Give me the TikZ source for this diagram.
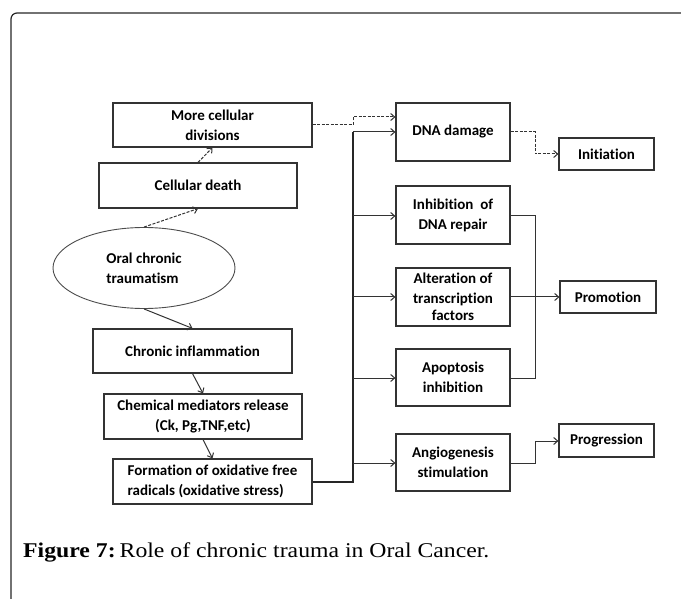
\documentclass[tikz,border=0pt]{standalone}
\usepackage{fontspec}
\newfontfamily\boxfont[Ligatures={NoCommon,NoContextual}]{Carlito}
\newfontfamily\capfont[FakeStretch=1.13]{Liberation Serif}
\usetikzlibrary{arrows.meta,shapes.geometric}

\tikzset{
  box/.style={draw=black!80, line width=1.2pt, rectangle, inner sep=0pt,
    align=center, font=\boxfont\bfseries\fontsize{15}{20}\selectfont, text=black},
  oval/.style={draw=black!70, line width=0.9pt, ellipse, inner sep=0pt,
    align=left, font=\boxfont\bfseries\fontsize{15}{20}\selectfont, text=black},
  link/.style={draw=black!80, line width=1pt},
  arr/.style={link, -{Straight Barb[length=4pt,width=7pt]}},
  dsh/.style={dash pattern=on 3pt off 1.5pt},
  spine/.style={draw=black!85, line width=1.8pt},
}

\begin{document}
\begin{tikzpicture}[x=1pt, y=-1pt]
\useasboundingbox (0,0) rectangle (681,599);

% outer frame, open to the right and bottom
\draw[black!85, line width=1.2pt, rounded corners=6pt] (681,13) -- (11,13) -- (11,599);

% left column
\node[box, minimum width=199pt, minimum height=44pt] (mcd) at (212.5,125) {More cellular\\divisions};
\node[box, minimum width=198pt, minimum height=45pt] (cd)  at (198,185.5) {Cellular death};
\node[oval, minimum width=182pt, minimum height=81pt] (ell) at (144,268) {Oral chronic\\traumatism};
\node[box, minimum width=199pt, minimum height=44pt] (ci)  at (192.5,351) {Chronic inflammation};
\node[box, minimum width=198pt, minimum height=45pt] (cm)  at (203,416.5) {Chemical mediators release\\(Ck, Pg,TNF,etc)};
\node[box, minimum width=199pt, minimum height=45pt, align=left] (fo)  at (212.5,481.5) {Formation of oxidative free\\radicals (oxidative stress)};

% middle column
\node[box, minimum width=114pt, minimum height=58pt] (dna) at (453,132) {DNA damage};
\node[box, minimum width=114pt, minimum height=58pt] (inh) at (453,215) {Inhibition~ of\\DNA repair};
\node[box, minimum width=114pt, minimum height=58pt] (alt) at (453,297) {Alteration of\\transcription\\[-3pt]factors};
\node[box, minimum width=114pt, minimum height=57pt] (apo) at (453,377.5) {Apoptosis\\inhibition};
\node[box, minimum width=114pt, minimum height=57pt] (ang) at (453,462.5) {Angiogenesis\\stimulation};

% outcome column
\node[box, minimum width=95pt, minimum height=32pt] (ini) at (606.5,154) {Initiation};
\node[box, minimum width=96pt, minimum height=32pt] (pro) at (608,297) {Promotion};
\node[box, minimum width=95pt, minimum height=33pt] (prg) at (606.5,440.5) {Progression};

% caption
\node[anchor=base west, inner sep=0pt, font=\capfont\fontsize{21}{24}\selectfont] (cap) at (23,557)
  {\textbf{Figure 7:}\hspace{4pt}Role of chronic trauma in Oral Cancer.};

% left column links
\draw[arr, dsh] (ell.north) -- (cd.south);
\draw[arr, dsh] (cd.north) -- (mcd.south);
\draw[arr] (ell.south) -- (ci.north);
\draw[arr] (ci.south) -- (cm.north);
\draw[arr] (cm.south) -- (fo.north);

% spine from the free radicals box
\coordinate (sb) at (353,482);
\coordinate (st) at (353,132);
\draw[spine] (fo.east |- sb) -- (sb) -- (st);
\draw[arr] (st) -- (dna.west |- st);
\draw[arr] (353,216) -- (inh.west |- 0,216);
\draw[arr] (353,297) -- (alt.west);
\draw[arr] (353,378) -- (apo.west |- 0,378);
\draw[arr] (353,463) -- (ang.west |- 0,463);

% more cellular divisions to DNA damage
\draw[arr, dsh] (mcd.east) -- (353,125) -- (353,117) -- (dna.west |- 0,117);

% DNA damage to initiation
\draw[arr, dsh] (dna.east) -- (535,132) -- (535,154) -- (ini.west);

% promotion merge
\draw[link] (inh.east |- 0,216) -- (535,216) -- (535,378) -- (apo.east |- 0,378);
\draw[arr] (alt.east) -- (pro.west);

% angiogenesis to progression
\draw[arr] (ang.east |- 0,463) -- (535,463) -- (535,441) -- (prg.west |- 0,441);
\end{tikzpicture}
\end{document}
